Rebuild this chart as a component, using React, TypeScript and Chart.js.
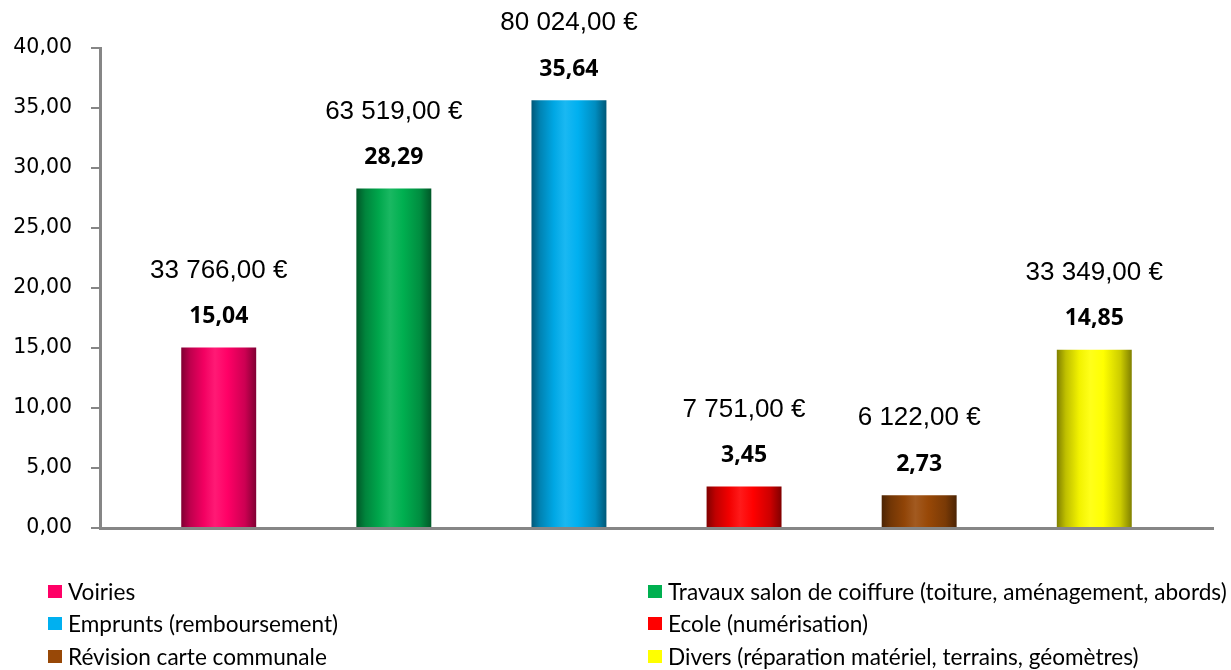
import React, { useEffect, useRef } from "react";
import { Chart, registerables } from "chart.js";

Chart.register(...registerables);

const categories = [""];
const seriesNames = [
  "Voiries",
  "Travaux salon de coiffure (toiture, aménagement, abords)",
  "Emprunts (remboursement)",
  "Ecole (numérisation)",
  "Révision carte communale",
  "Divers (réparation matériel, terrains, géomètres)",
];
const seriesValues = [15.04, 28.29, 35.64, 3.45, 2.73, 14.85];
const amounts = [33766, 63519, 80024, 7751, 6122, 33349];
const baseColors = ["#FF0066", "#00B050", "#00B0F0", "#FF0000", "#984807", "#FFFF00"];
const yMin = 0;
const yMax = 40;
const yStep = 5;

function fmtVal(v: number): string {
  return v.toFixed(2).replace(".", ",");
}
function fmtEuro(v: number): string {
  const parts = v.toFixed(2).split(".");
  const int = parts[0].replace(/\B(?=(\d{3})+(?!\d))/g, " ");
  return int + "," + parts[1] + " €";
}

function hexToRgb(hex: string): [number, number, number] {
  const h = hex.replace("#", "");
  return [parseInt(h.slice(0, 2), 16), parseInt(h.slice(2, 4), 16), parseInt(h.slice(4, 6), 16)];
}
function shade(hex: string, f: number): string {
  const [r, g, b] = hexToRgb(hex);
  if (f <= 1) {
    return `rgb(${Math.round(r * f)},${Math.round(g * f)},${Math.round(b * f)})`;
  }
  const t = f - 1;
  return `rgb(${Math.round(r + (255 - r) * t)},${Math.round(g + (255 - g) * t)},${Math.round(b + (255 - b) * t)})`;
}

const labelPlugin = {
  id: "barLabels",
  afterDatasetsDraw(chart: any) {
    const ctx = chart.ctx;
    chart.data.datasets.forEach((_ds: any, i: number) => {
      const el = chart.getDatasetMeta(i).data[0];
      if (!el) return;
      ctx.save();
      ctx.textAlign = "center";
      ctx.textBaseline = "middle";
      ctx.fillStyle = "#000";
      ctx.font = 'bold 23px "Open Sans"';
      ctx.fillText(fmtVal(seriesValues[i]), el.x, el.y - 31);
      ctx.font = '26px "Liberation Sans"';
      ctx.fillText(fmtEuro(amounts[i]), el.x, el.y - 77);
      ctx.restore();
    });
  },
};

export default function App() {
  const canvasRef = useRef<HTMLCanvasElement | null>(null);

  useEffect(() => {
    if (!canvasRef.current) return;
    const chart = new Chart(canvasRef.current, {
      type: "bar",
      data: {
        labels: categories,
        datasets: seriesNames.map((name, i) => ({
          label: name,
          data: [seriesValues[i]],
          backgroundColor: baseColors[i],
          borderWidth: 0,
        })),
      },
      options: {
        responsive: false,
        animation: false,
        categoryPercentage: 0.944,
        barPercentage: 0.428,
        layout: { padding: { top: 48, right: 18, left: 0, bottom: 0 } },
        plugins: {
          legend: { display: false },
          tooltip: { enabled: false },
          title: { display: false },
        },
        scales: {
          x: {
            ticks: { display: false },
            grid: { display: false },
            border: { display: true, color: "#868686", width: 3 },
            afterFit: (s: any) => {
              s.height = 142;
            },
          },
          y: {
            min: yMin,
            max: yMax,
            ticks: {
              stepSize: yStep,
              padding: 19,
              color: "#000",
              font: { family: "DejaVu Sans", size: 20.5 },
              callback: (v: any) => fmtVal(Number(v)),
            },
            grid: {
              drawOnChartArea: false,
              drawTicks: true,
              tickLength: 9,
              color: "#868686",
              lineWidth: 2,
            },
            border: { display: true, color: "#868686", width: 3 },
            afterFit: (s: any) => {
              s.width = 100;
            },
          },
        },
      } as any,
      plugins: [labelPlugin],
    });

    chart.data.datasets.forEach((ds: any, i: number) => {
      const el: any = chart.getDatasetMeta(i).data[0];
      if (!el) return;
      const x = el.x;
      const w = el.width;
      const g = chart.ctx.createLinearGradient(x - w / 2, 0, x + w / 2, 0);
      const c = baseColors[i];
      g.addColorStop(0, shade(c, 0.5));
      g.addColorStop(0.12, shade(c, 0.75));
      g.addColorStop(0.3, shade(c, 0.95));
      g.addColorStop(0.45, shade(c, 1.1));
      g.addColorStop(0.62, shade(c, 1.0));
      g.addColorStop(0.85, shade(c, 0.8));
      g.addColorStop(1, shade(c, 0.5));
      ds.backgroundColor = g;
    });
    chart.update();

    return () => chart.destroy();
  }, []);

  return (
    <div style={{ position: "absolute", left: 0, top: 0, width: 1231, height: 670, background: "#fff" }}>
      <canvas ref={canvasRef} width={1231} height={670} style={{ position: "absolute", left: 0, top: 0 }} />
      <div
        style={{
          position: "absolute",
          left: 48,
          top: 575,
          display: "grid",
          gridTemplateColumns: "600px auto",
          gridAutoRows: "32.5px",
          fontFamily: "Lato",
          fontSize: 22.6,
          color: "#000",
        }}
      >
        {seriesNames.map((name, i) => (
          <div key={name} style={{ display: "flex", alignItems: "center", whiteSpace: "nowrap" }}>
            <span
              style={{
                display: "inline-block",
                width: 14,
                height: 13,
                background: baseColors[i],
                marginRight: 6,
              }}
            />
            <span>{name}</span>
          </div>
        ))}
      </div>
    </div>
  );
}
